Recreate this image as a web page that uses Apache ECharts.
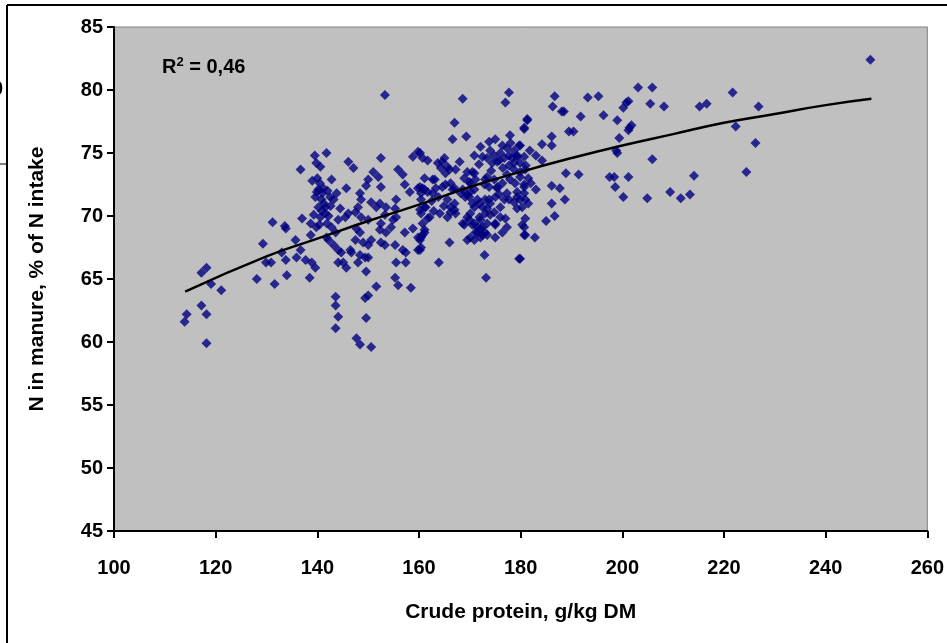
<!DOCTYPE html>
<html>
<head>
<meta charset="utf-8">
<script src="https://cdn.jsdelivr.net/npm/echarts@6/dist/echarts.min.js"></script>
<style>
  html, body { margin: 0; padding: 0; background: #fff; }
  #chart { width: 947px; height: 643px; }
</style>
</head>
<body>
<div id="chart"></div>
<script>
// crude protein (g/kg DM) vs N in manure (% of N intake)
const lowCP = [
  [114.3, 62.2], [113.9, 61.6], [117.2, 65.5], [118.2, 65.9], [119.1, 64.6], [121.1, 64.1],
  [117.2, 62.9], [118.2, 62.2], [118.2, 59.9], [128.1, 65.0], [129.3, 67.8], [129.9, 66.3],
  [130.9, 66.3], [131.2, 69.5], [131.6, 64.6], [133.0, 67.1], [133.6, 69.2], [133.8, 69.0],
  [133.8, 66.5], [134.0, 65.3], [135.7, 68.1], [135.9, 66.7], [136.7, 67.3], [136.7, 73.7],
  [137.0, 69.8], [137.7, 66.5], [138.5, 65.1], [138.7, 69.4], [138.7, 68.5], [138.9, 66.3],
  [139.3, 70.1], [139.5, 74.8], [139.6, 71.5], [139.6, 65.9], [139.8, 74.2], [139.8, 69.1],
  [140.2, 72.1], [141.2, 72.2], [140.8, 71.3], [140.2, 70.7], [141.6, 70.7], [140.6, 69.9],
  [141.6, 70.2], [141.8, 68.3], [140.6, 73.9], [141.8, 75.0], [142.5, 71.5], [141.0, 71.8],
  [142.2, 70.0], [139.0, 72.8], [140.0, 73.0], [140.5, 72.6], [141.3, 71.0], [142.0, 72.0],
  [140.9, 70.4], [139.9, 71.9], [141.9, 69.4], [140.4, 69.3], [142.6, 70.8]
];
const midCP = [
  [153.3, 79.6], [146.1, 74.3], [147.1, 73.8], [152.5, 74.6], [142.8, 72.9], [145.7, 72.2],
  [158.8, 74.7], [159.8, 75.1], [160.7, 74.6], [155.9, 73.7], [156.8, 73.3], [151.0, 73.5],
  [152.0, 73.1], [152.5, 72.3], [150.0, 72.9], [149.6, 72.4], [157.2, 72.5], [158.2, 71.9],
  [159.8, 72.2], [160.4, 71.8], [143.8, 71.8], [143.2, 71.3], [148.4, 71.8], [148.6, 71.3],
  [148.0, 70.7], [150.6, 71.1], [151.6, 70.7], [152.3, 71.0], [153.5, 70.7], [153.3, 70.1],
  [155.5, 71.3], [155.3, 70.6], [144.5, 70.6], [145.5, 69.9], [144.1, 69.7], [146.1, 70.2],
  [147.5, 70.3], [148.6, 69.9], [150.0, 69.7], [154.9, 69.7], [155.5, 69.9], [154.5, 69.1],
  [152.5, 69.4], [152.3, 68.9], [153.5, 68.7], [157.2, 68.7], [158.8, 69.0], [159.8, 68.3],
  [161.1, 68.7], [142.8, 69.1], [143.6, 68.7], [147.7, 69.0], [148.4, 68.7], [147.5, 68.1],
  [149.0, 67.9], [150.0, 67.7], [150.6, 68.1], [142.2, 68.1], [143.2, 67.7], [144.1, 67.3],
  [144.7, 67.1], [146.5, 67.3], [146.7, 67.1], [152.5, 67.9], [153.3, 67.7], [155.3, 67.7],
  [156.8, 67.3], [157.4, 67.1], [159.8, 67.3], [148.4, 66.9], [149.4, 66.7], [148.0, 66.3],
  [150.0, 66.7], [144.1, 66.3], [145.1, 66.3], [145.7, 65.9], [155.5, 66.3], [157.4, 66.3],
  [149.6, 65.6], [155.3, 65.1], [155.9, 64.5], [158.4, 64.3], [151.6, 64.4], [150.0, 63.7],
  [149.4, 63.5], [143.6, 63.6], [143.6, 62.9], [144.1, 62.0], [143.6, 61.1], [149.6, 61.9],
  [147.7, 60.3], [148.4, 59.8], [150.6, 59.6]
];
const upperCP = [
  [168.6, 79.3], [177.7, 79.8], [177.0, 79.0], [167.0, 77.4], [166.6, 76.1], [169.3, 76.3],
  [177.9, 76.4], [179.9, 75.6], [180.7, 77.0], [181.3, 77.6], [172.1, 75.5], [173.8, 75.9],
  [175.0, 76.1], [176.4, 75.6], [177.3, 75.4], [178.7, 75.2], [179.3, 74.7], [170.9, 74.8],
  [172.5, 74.7], [173.4, 74.6], [174.8, 74.8], [175.8, 74.4], [176.8, 74.6], [177.7, 74.8],
  [160.2, 75.0], [161.7, 74.4], [163.7, 74.2], [165.0, 74.6], [164.3, 73.8], [166.0, 73.7],
  [167.2, 73.7], [169.5, 73.5], [170.9, 73.4], [168.9, 73.0], [173.4, 73.1], [172.9, 72.5],
  [174.8, 72.9], [175.4, 72.2], [177.3, 73.3], [178.7, 73.7], [179.9, 73.1], [180.7, 72.5],
  [161.1, 73.0], [163.1, 72.9], [165.2, 72.5], [166.2, 72.6], [166.6, 72.1], [160.7, 72.2],
  [161.7, 71.9], [162.7, 71.8], [168.2, 71.8], [169.1, 71.5], [170.1, 71.9], [171.5, 71.3],
  [170.9, 70.7], [171.9, 71.0], [173.8, 71.3], [173.4, 70.6], [174.8, 70.3], [175.8, 71.7],
  [176.0, 70.7], [177.3, 71.8], [177.7, 71.3], [178.7, 71.1], [179.3, 71.5], [180.7, 71.8],
  [180.9, 71.3], [165.6, 71.3], [167.0, 71.0], [166.2, 70.3], [167.2, 70.2], [160.4, 71.3],
  [161.1, 70.7], [160.2, 70.5], [164.1, 70.2], [165.6, 69.9], [162.1, 69.9], [168.6, 69.4],
  [169.9, 69.7], [171.9, 69.9], [171.5, 69.1], [173.0, 70.2], [175.0, 69.4], [177.0, 69.8],
  [177.3, 69.1], [161.1, 68.9], [160.7, 68.5], [160.2, 68.1], [171.1, 68.7], [172.1, 69.0],
  [172.5, 68.5], [173.4, 68.5], [169.5, 68.1], [180.7, 69.1], [180.7, 68.5], [166.0, 67.9],
  [160.2, 67.3], [163.9, 66.3], [172.9, 66.9], [179.7, 66.6], [173.2, 65.1],
  [178.3, 74.6], [179.3, 74.8], [180.7, 74.7], [174.4, 74.2], [175.4, 74.3], [177.7, 74.0],
  [178.7, 74.2], [179.9, 74.2], [179.9, 73.5], [180.9, 73.7], [170.5, 73.5], [169.9, 72.7],
  [171.1, 72.9], [173.0, 72.9], [173.8, 72.3], [175.4, 72.3], [176.4, 72.6], [177.9, 72.9],
  [178.9, 72.6], [179.3, 71.9], [180.7, 72.3], [179.9, 71.3], [169.9, 71.5], [170.5, 71.0],
  [172.5, 70.7], [173.0, 71.3], [174.0, 71.0], [175.0, 71.5], [176.8, 71.3], [179.3, 70.6],
  [180.3, 70.7], [169.5, 69.9], [170.1, 70.2], [170.5, 69.3], [172.1, 69.7], [172.5, 69.1],
  [173.4, 69.4], [174.0, 70.1], [176.0, 69.9], [180.3, 69.3], [180.9, 69.8], [170.1, 68.3],
  [170.9, 68.1], [171.5, 68.7], [172.1, 68.3], [173.0, 68.7], [175.0, 69.3], [175.0, 68.3],
  [176.4, 68.7], [164.6, 74.3], [165.6, 73.9], [165.2, 73.4], [170.1, 72.6], [160.2, 72.3],
  [161.1, 72.1], [162.7, 72.9], [163.3, 72.2], [164.6, 72.3], [167.0, 72.2], [168.6, 72.1],
  [169.5, 71.7], [170.9, 72.1], [161.3, 70.7], [160.4, 70.2], [161.7, 69.8], [160.7, 69.4],
  [166.2, 70.7], [167.0, 70.5], [168.9, 69.3], [170.9, 69.4], [160.4, 68.3], [160.4, 67.5],
  [174.0, 75.2], [176.0, 75.0], [178.0, 75.8], [176.5, 73.8], [174.2, 73.6], [171.8, 74.1],
  [168.0, 74.3], [162.5, 71.2], [163.8, 71.5], [164.9, 70.8], [162.9, 70.4]
];
const highCP = [
  [203.1, 80.2], [205.9, 80.2], [186.7, 79.5], [186.3, 78.7], [188.1, 78.3], [188.5, 78.3],
  [193.2, 79.4], [195.3, 79.5], [196.3, 78.0], [191.8, 77.9], [181.3, 77.7], [180.7, 76.9],
  [200.8, 79.0], [200.2, 78.6], [199.0, 77.6], [201.8, 77.2], [201.2, 76.8], [199.4, 76.2],
  [189.5, 76.7], [190.4, 76.7], [186.1, 76.3], [186.1, 75.6], [184.2, 75.7], [179.7, 75.6],
  [181.8, 75.2], [183.0, 74.8], [184.2, 74.4], [198.8, 75.2], [199.0, 75.0], [188.9, 73.4],
  [191.4, 73.3], [197.5, 73.1], [198.4, 73.1], [198.6, 72.3], [201.2, 73.1], [200.2, 71.5],
  [186.1, 72.4], [187.7, 72.2], [188.7, 71.3], [186.1, 71.0], [183.0, 72.1], [181.5, 71.0],
  [186.7, 70.0], [185.0, 69.6], [180.9, 68.5], [182.8, 68.3], [179.9, 66.6], [181.5, 73.0],
  [182.0, 72.6], [181.0, 74.0], [248.8, 82.4], [201.2, 79.1], [205.5, 78.9], [208.2, 78.7],
  [215.2, 78.7], [216.6, 78.9], [221.7, 79.8], [226.8, 78.7], [201.4, 77.0], [222.3, 77.1],
  [226.2, 75.8], [205.9, 74.5], [214.1, 73.2], [224.4, 73.5], [209.4, 71.9], [211.5, 71.4],
  [213.3, 71.7], [204.9, 71.4]
];
const scatterPoints = lowCP.concat(midCP, upperCP, highCP);

// fitted trend line as drawn
const trendX = [114, 130, 140, 150, 160, 170, 180, 190, 200, 210, 220, 230, 240, 249];
const trendY = [64.0, 66.8, 68.2, 69.6, 70.9, 72.3, 73.5, 74.6, 75.6, 76.5, 77.4, 78.1, 78.8, 79.3];

const xMin = 100, xMax = 260, xStep = 20;
const yMin = 45, yMax = 85, yStep = 5;

const chart = echarts.init(document.getElementById('chart'), null, { renderer: 'canvas' });
const font = 'Liberation Sans, Arial, sans-serif';

const option = {
  animation: false,
  backgroundColor: '#ffffff',
  grid: {
    left: 114, right: 14, top: 27, bottom: 112,
    show: true,
    backgroundColor: '#c0c0c0',
    borderColor: '#808080',
    borderWidth: 1
  },
  xAxis: {
    type: 'value',
    min: xMin, max: xMax, interval: xStep,
    name: 'Crude protein, g/kg DM',
    nameLocation: 'middle',
    nameGap: 71,
    nameTextStyle: { color: '#000', fontFamily: font, fontWeight: 'bold', fontSize: 21 },
    axisLine: { lineStyle: { color: '#000', width: 2 } },
    axisTick: { inside: false, length: 7, lineStyle: { color: '#000', width: 2 } },
    axisLabel: { color: '#000', fontFamily: font, fontWeight: 'bold', fontSize: 20, margin: 27, showMaxLabel: true },
    splitLine: { show: false }
  },
  yAxis: {
    type: 'value',
    min: yMin, max: yMax, interval: yStep,
    name: 'N in manure, % of N intake',
    nameLocation: 'middle',
    nameGap: 66,
    nameTextStyle: { color: '#000', fontFamily: font, fontWeight: 'bold', fontSize: 21 },
    axisLine: { lineStyle: { color: '#000', width: 2 } },
    axisTick: { inside: false, length: 7, lineStyle: { color: '#000', width: 2 } },
    axisLabel: { color: '#000', fontFamily: font, fontWeight: 'bold', fontSize: 20, margin: 11 },
    splitLine: { show: false }
  },
  series: [
    {
      type: 'scatter',
      data: scatterPoints,
      symbol: 'diamond',
      symbolSize: 10,
      itemStyle: { color: '#000080' },
      z: 2
    },
    {
      type: 'line',
      data: trendX.map((x, i) => [x, trendY[i]]),
      smooth: true,
      showSymbol: false,
      lineStyle: { color: '#000', width: 2.5 },
      z: 3
    }
  ],
  graphic: [
    // outer frame pieces
    { type: 'line', shape: { x1: 7, y1: 5, x2: 947, y2: 5 }, style: { stroke: '#000', lineWidth: 2 } },
    { type: 'line', shape: { x1: 7, y1: 5, x2: 7, y2: 643 }, style: { stroke: '#000', lineWidth: 2 } },
    { type: 'line', shape: { x1: 0, y1: 164, x2: 7, y2: 164 }, style: { stroke: '#000', lineWidth: 1 } },
    {
      type: 'text', left: -8, top: 79,
      style: { text: '0', fill: '#000', font: 'bold 20px ' + font }
    },
    {
      type: 'text', left: 162, top: 56,
      style: {
        text: '{a|R}{b|2}{a| = 0,46}',
        rich: {
          a: { fontFamily: font, fontWeight: 'bold', fontSize: 20, fill: '#000', verticalAlign: 'bottom' },
          b: { fontFamily: font, fontWeight: 'bold', fontSize: 13, fill: '#000', verticalAlign: 'top', padding: [0, 0, 8, 0] }
        }
      }
    }
  ]
};

chart.setOption(option);
</script>
</body>
</html>
